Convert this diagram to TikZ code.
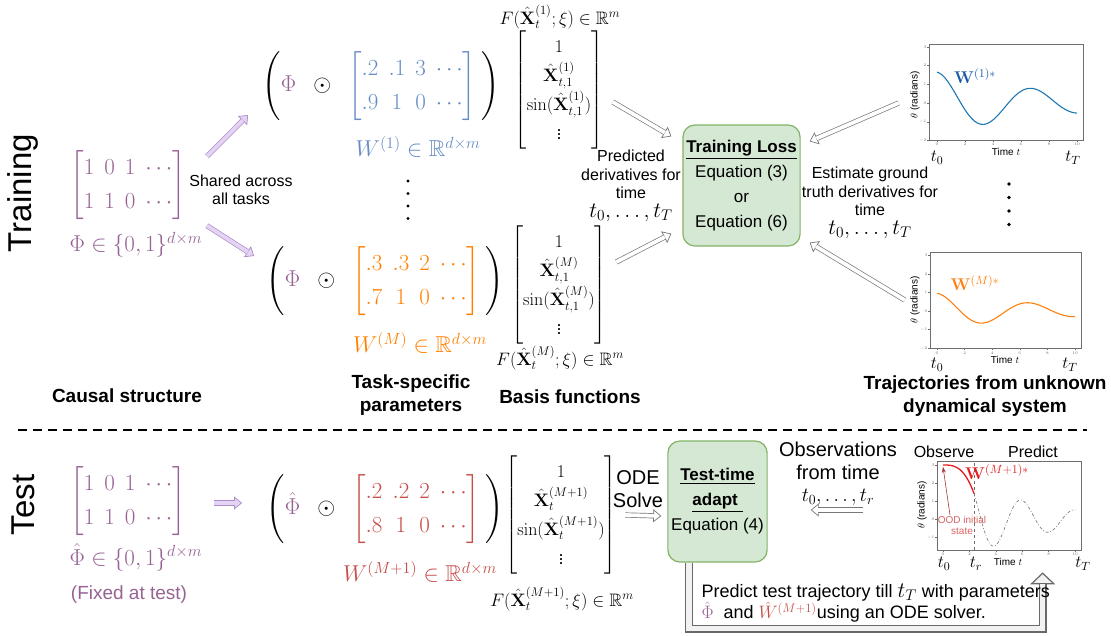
\RequirePackage{fix-cm}
\documentclass[tikz,border=0pt]{standalone}
\usepackage{amsmath,amssymb}
\usepackage[no-math]{fontspec}
\setmainfont{Liberation Sans}
\usetikzlibrary{arrows.meta}
\definecolor{phicol}{RGB}{150,98,148}
\definecolor{phiarrow}{RGB}{176,140,204}
\definecolor{phiarrowfill}{RGB}{226,212,242}
\definecolor{wone}{RGB}{103,140,196}
\definecolor{wm}{RGB}{255,128,0}
\definecolor{wnew}{RGB}{196,78,72}
\definecolor{lossfill}{RGB}{213,232,212}
\definecolor{lossdraw}{RGB}{130,179,102}
\definecolor{arrgray}{RGB}{120,120,120}
\definecolor{ugray}{RGB}{105,105,105}
\definecolor{ufill}{RGB}{242,242,242}
\definecolor{axisgray}{RGB}{110,110,110}
\definecolor{trajblue}{RGB}{31,119,180}
\definecolor{trajorange}{RGB}{255,127,14}
\definecolor{labblue}{RGB}{25,90,165}
\definecolor{oodred}{RGB}{226,30,30}
\definecolor{oodtext}{RGB}{214,98,98}
\definecolor{oodarrow}{RGB}{165,55,55}
\tikzset{
  txt/.style={font=\fontsize{16}{18.5}\selectfont, align=center},
  bigtxt/.style={font=\fontsize{20}{22.5}\selectfont, align=center},
  caption/.style={font=\fontsize{19}{23}\selectfont\bfseries, align=center},
  mat/.style={font=\fontsize{23}{27}\selectfont\renewcommand{\arraystretch}{1.25}},
  basis/.style={font=\fontsize{18}{21}\selectfont\renewcommand{\arraystretch}{1.38}},
  rowtag/.style={rotate=90, font=\fontsize{33}{36}\selectfont},
  ticklab/.style={font=\fontsize{4}{5}\selectfont, text=axisgray, inner sep=.5pt},
  plotbox/.style={draw=axisgray, line width=.7pt, inner sep=0pt},
  plotlab/.style={font=\fontsize{10}{11}\selectfont, inner sep=1pt},
  tlab/.style={font=\fontsize{17}{19}\selectfont, inner sep=1pt},
  greenbox/.style={draw=lossdraw, fill=lossfill, line width=1.2pt, rounded corners=12pt, align=center}
}
% hollow arrow: outline colour, fill colour, from, to
\newcommand{\hollowarrow}[4]{%
  \draw[#2, line width=.1pt, -{Triangle[color=#1, fill=#2, length=8pt, width=13pt, line width=.7pt]}] #3 -- #4;
  \draw[draw=#1, line width=.7pt, double=#2, double distance=3.8pt, shorten >=7.4pt] #3 -- #4;}
\begin{document}
\begin{tikzpicture}[x=1pt, y=-1pt]
\useasboundingbox (0,0) rectangle (1111,635);

% row tags
\node[rowtag] (traintag) at (23,193) {Training};
\node[rowtag] (testtag) at (23,505) {Test};
\draw[line width=1.6pt, dash pattern=on 9pt off 6pt] (18,430) -- (1087,430);

% causal structure
\node[mat, text=phicol] (causal) at (128,185) {$\begin{bmatrix}1&0&1&\cdots\\1&1&0&\cdots\end{bmatrix}$};
\node[mat, text=phicol, anchor=west] (phiset) at (66,245) {$\Phi\in\{0,1\}^{d\times m}$};
\node[txt] (shared) at (241,190) {Shared across\\all tasks};
\node[caption] (causalcap) at (127,396) {Causal structure};

% task-specific parameters
\node[mat] (tasktop) at (381,86) {$\left(\textcolor{phicol}{\Phi}\hspace{12pt}\odot\hspace{12pt}\textcolor{wone}{\begin{bmatrix}.2&.1&3&\cdots\\.9&1&0&\cdots\end{bmatrix}}\hspace{5pt}\right)$};
\node[mat, text=wone] (wonelab) at (418,147) {$W^{(1)}\in\mathbb{R}^{d\times m}$};
\foreach \k in {0,...,3} \fill (408,181+12.5*\k) circle (1.7);
\node[mat] (taskM) at (385,281) {$\left(\textcolor{phicol}{\Phi}\hspace{12pt}\odot\hspace{12pt}\textcolor{wm}{\begin{bmatrix}.3&.3&2&\cdots\\.7&1&0&\cdots\end{bmatrix}}\hspace{5pt}\right)$};
\node[mat, text=wm] (wmlab) at (420,343) {$W^{(M)}\in\mathbb{R}^{d\times m}$};
\node[caption] (taskcap) at (411,395) {Task-specific\\parameters};

% basis functions
\node[basis] (fone) at (560,17) {$F(\hat{\mathbf{X}}^{(1)}_t;\xi)\in\mathbb{R}^m$};
\node[basis] (basisone) at (559,90) {$\begin{bmatrix}1\\ \hat{\mathbf{X}}^{(1)}_{t,1}\\ \sin(\hat{\mathbf{X}}^{(1)}_{t,1})\\ \vdots\end{bmatrix}$};
\node[basis] (basisM) at (559,285) {$\begin{bmatrix}1\\ \hat{\mathbf{X}}^{(M)}_{t,1}\\ \sin(\hat{\mathbf{X}}^{(M)}_{t,1})\\ \vdots\end{bmatrix}$};
\node[basis] (fM) at (560,358) {$F(\hat{\mathbf{X}}^{(M)}_t;\xi)\in\mathbb{R}^m$};
\node[caption] (basiscap) at (570,397) {Basis functions};

% training loss
\node[greenbox, minimum width=115, minimum height=121, font=\fontsize{17}{25}\selectfont] (loss) at (741.5,185.5)
  {\underline{\textbf{Training Loss}}\\Equation (3)\\or\\Equation (6)};
\node[txt] (predtxt) at (631,186) {Predicted\\derivatives for\\time\\{\fontsize{22}{20}\selectfont$t_0,\dots,t_T$}};
\node[txt] (esttxt) at (870,203) {Estimate ground\\truth derivatives for\\time\\{\fontsize{22}{20}\selectfont$t_0,\dots,t_T$}};

% trajectories
\node[plotbox, minimum width=154, minimum height=96] (trajone) at (1006,92) {};
\begin{scope}[shift={(937,103)}, x=14pt, y=18.7pt]
  \foreach \v in {-2,...,3} {\draw[axisgray, line width=.3pt] (-0.57,\v) -- ++(-0.15,0); \node[ticklab, anchor=east] at (-0.72,\v) {$\v$};}
  \foreach \u in {0,2,...,10} {\draw[axisgray, line width=.3pt] (\u,-1.98) -- ++(0,-0.12); \node[ticklab, anchor=north] at (\u,-2.12) {$\u$};}
  \draw[trajblue, line width=1.1pt] plot[domain=0:10, samples=90, smooth] (\x,{1.65*exp(-0.11*\x)*cos(deg(0.924*\x))});
\end{scope}
\node[plotlab, rotate=90] (thone) at (915,95) {$\theta$ (radians)};
\node[plotlab] (timeone) at (1006,152) {Time $t$};
\node[tlab] (tzone) at (937,158) {$t_0$};
\node[tlab] (ttone) at (1073,158) {$t_T$};
\node[tlab, text=labblue] (wstarone) at (975,76) {$\mathbf{W}^{(1)*}$};
\foreach \k in {0,...,3} \fill (1009,184+13.5*\k) circle (1.8);

\node[plotbox, minimum width=151, minimum height=96] (trajM) at (1005.5,300) {};
\begin{scope}[shift={(937,311)}, x=13.8pt, y=18.6pt]
  \foreach \v in {-2,...,3} {\draw[axisgray, line width=.3pt] (-0.5,\v) -- ++(-0.15,0); \node[ticklab, anchor=east] at (-0.65,\v) {$\v$};}
  \foreach \u in {0,2,...,10} {\draw[axisgray, line width=.3pt] (\u,-2) -- ++(0,-0.12); \node[ticklab, anchor=north] at (\u,-2.14) {$\u$};}
  \draw[trajorange, line width=1.1pt] plot[domain=0:10, samples=90, smooth] (\x,{0.95*exp(-0.115*\x)*cos(deg(0.94*\x))});
\end{scope}
\node[plotlab, rotate=90] (thM) at (915,300) {$\theta$ (radians)};
\node[plotlab] (timeM) at (1005,360) {Time $t$};
\node[tlab] (tzM) at (937,365) {$t_0$};
\node[tlab] (ttM) at (1070,365) {$t_T$};
\node[tlab, text=trajorange] (wstarM) at (975,283) {$\mathbf{W}^{(M)*}$};
\node[caption] (trajcap) at (985,396) {Trajectories from unknown\\dynamical system};

% training arrows
\hollowarrow{phiarrow}{phiarrowfill}{([xshift=21pt,yshift=15pt]shared.north west)}{([xshift=-11pt,yshift=9pt]tasktop.south west)}
\hollowarrow{phiarrow}{phiarrowfill}{([xshift=21pt,yshift=-17pt]shared.south west)}{([xshift=-9pt,yshift=-13pt]taskM.north west)}
\hollowarrow{arrgray}{white}{([xshift=6pt,yshift=-12pt]basisone.east)}{([xshift=-11pt,yshift=-12pt]loss.north west)}
\hollowarrow{arrgray}{white}{([xshift=6pt,yshift=23pt]basisM.east)}{([xshift=-11pt,yshift=13pt]loss.south west)}
\hollowarrow{arrgray}{white}{([xshift=-30pt,yshift=-11pt]trajone.west)}{([xshift=9pt,yshift=-17pt]loss.north east)}
\hollowarrow{arrgray}{white}{([xshift=-25pt]trajM.west)}{([xshift=9pt,yshift=4pt]loss.south east)}

% test
\node[mat, text=phicol] (causaltest) at (128,501) {$\begin{bmatrix}1&0&1&\cdots\\1&1&0&\cdots\end{bmatrix}$};
\node[mat, text=phicol, anchor=west] (phihatset) at (66,557) {$\hat{\Phi}\in\{0,1\}^{d\times m}$};
\node[font=\fontsize{19}{22}\selectfont, text=phicol] (fixed) at (129,595) {(Fixed at test)};
\node[mat] (tasktest) at (385,509) {$\left(\textcolor{phicol}{\hat{\Phi}}\hspace{12pt}\odot\hspace{12pt}\textcolor{wnew}{\begin{bmatrix}.2&.2&2&\cdots\\.8&1&0&\cdots\end{bmatrix}}\hspace{5pt}\right)$};
\node[mat, text=wnew] (wnewlab) at (420,572) {$W^{(M+1)}\in\mathbb{R}^{d\times m}$};
\node[basis] (basistest) at (561,515) {$\begin{bmatrix}1\\ \hat{\mathbf{X}}^{(M+1)}_t\\ \sin(\hat{\mathbf{X}}^{(M+1)}_t)\\ \vdots\end{bmatrix}$};
\node[basis] (ftest) at (562,599) {$F(\hat{\mathbf{X}}^{(M+1)}_t;\xi)\in\mathbb{R}^m$};
\node[bigtxt] (odetxt) at (638,489) {ODE\\Solve};
\node[greenbox, minimum width=99, minimum height=121, font=\fontsize{17}{25}\selectfont] (adapt) at (717.5,501.5)
  {\underline{\textbf{Test-time}}\\\underline{\textbf{adapt\ }}\\Equation (4)};
\node[bigtxt] (obstxt) at (838,474) {Observations\\from time\\$t_0,\dots,t_r$};

% test plot
\node[plotbox, minimum width=144, minimum height=89] (testplot) at (1009,505.5) {};
\begin{scope}[shift={(943,519)}, x=13.2pt, y=18pt]
  \foreach \v in {-1,...,3} {\draw[axisgray, line width=.3pt] (-0.45,\v) -- ++(-0.15,0); \node[ticklab, anchor=east] at (-0.6,\v) {$\v$};}
  \foreach \u in {0,2,...,10} {\draw[axisgray, line width=.3pt] (\u,-1.72) -- ++(0,-0.12); \node[ticklab, anchor=north] at (\u,-1.86) {$\u$};}
  \draw[axisgray, dashed, line width=.6pt] (2.35,-1.72) -- (2.35,3.22);
  \draw[gray, line width=.7pt, dash dot] plot[domain=2.35:10, samples=80, smooth] (\x,{1.5*exp(-0.174*(\x-3.9))*(-cos(deg(1.53*(\x-3.9))))});
  \draw[oodred, line width=1.3pt] plot[domain=0:2.35, samples=30, smooth] (\x,{3.0-1.59*(\x/2.35)^3});
  \coordinate (oodstart) at (0,2.9);
\end{scope}
\node[txt] (observe) at (944,452) {Observe};
\node[txt] (predict) at (1033,452) {Predict};
\node[tlab, text=oodred] (wstarnew) at (997,472) {$\mathbf{W}^{(M+1)*}$};
\node[plotlab, rotate=90] (thtest) at (922,505) {$\theta$ (radians)};
\node[plotlab, text=oodtext, align=center, inner sep=.5pt] (oodlab) at (962,525) {OOD initial\\state};
\draw[oodarrow, line width=.6pt, -{Stealth[length=6pt, width=4pt]}] ([xshift=-12pt]oodlab.north) -- (oodstart);
\node[plotlab] (timetest) at (1008,562) {Time $t$};
\node[tlab] (tztest) at (944,564) {$t_0$};
\node[tlab] (trtest) at (976,564) {$t_r$};
\node[tlab] (tttest) at (1083,564) {$t_T$};

% test arrows
\hollowarrow{phiarrow}{phiarrowfill}{([xshift=25pt,yshift=-2pt]causaltest.east)}{([xshift=-21pt,yshift=6pt]tasktest.west)}
\hollowarrow{arrgray}{white}{([xshift=5pt]basistest.east)}{([xshift=-6pt,yshift=-14.5pt]adapt.west)}
\hollowarrow{arrgray}{white}{([xshift=-74pt,yshift=-4.5pt]testplot.west)}{([xshift=43pt,yshift=-8.5pt]adapt.east)}

% return arrow
\draw[ufill, line width=.1pt, -{Triangle[color=ugray, fill=ufill, length=12pt, width=25pt, line width=1.2pt]}]
  ([xshift=22pt]adapt.south west) -- ++(0,66) -| ([xshift=106pt,yshift=-22pt]testplot.south west);
\draw[draw=ugray, line width=1.2pt, double=ufill, double distance=5.6pt, shorten >=11.5pt]
  ([xshift=22pt]adapt.south west) -- ++(0,66) -| ([xshift=106pt,yshift=-22pt]testplot.south west);
\node[font=\fontsize{18}{20}\selectfont, align=left, anchor=west] (predtestxt) at (698,603)
  {Predict test trajectory till {\fontsize{22}{20}\selectfont$t_T$} with parameters\\
   {\color{phicol}$\hat{\Phi}$} \ and {\color{wnew}$\hat{W}^{(M+1)}$}using an ODE solver.};
\end{tikzpicture}
\end{document}
